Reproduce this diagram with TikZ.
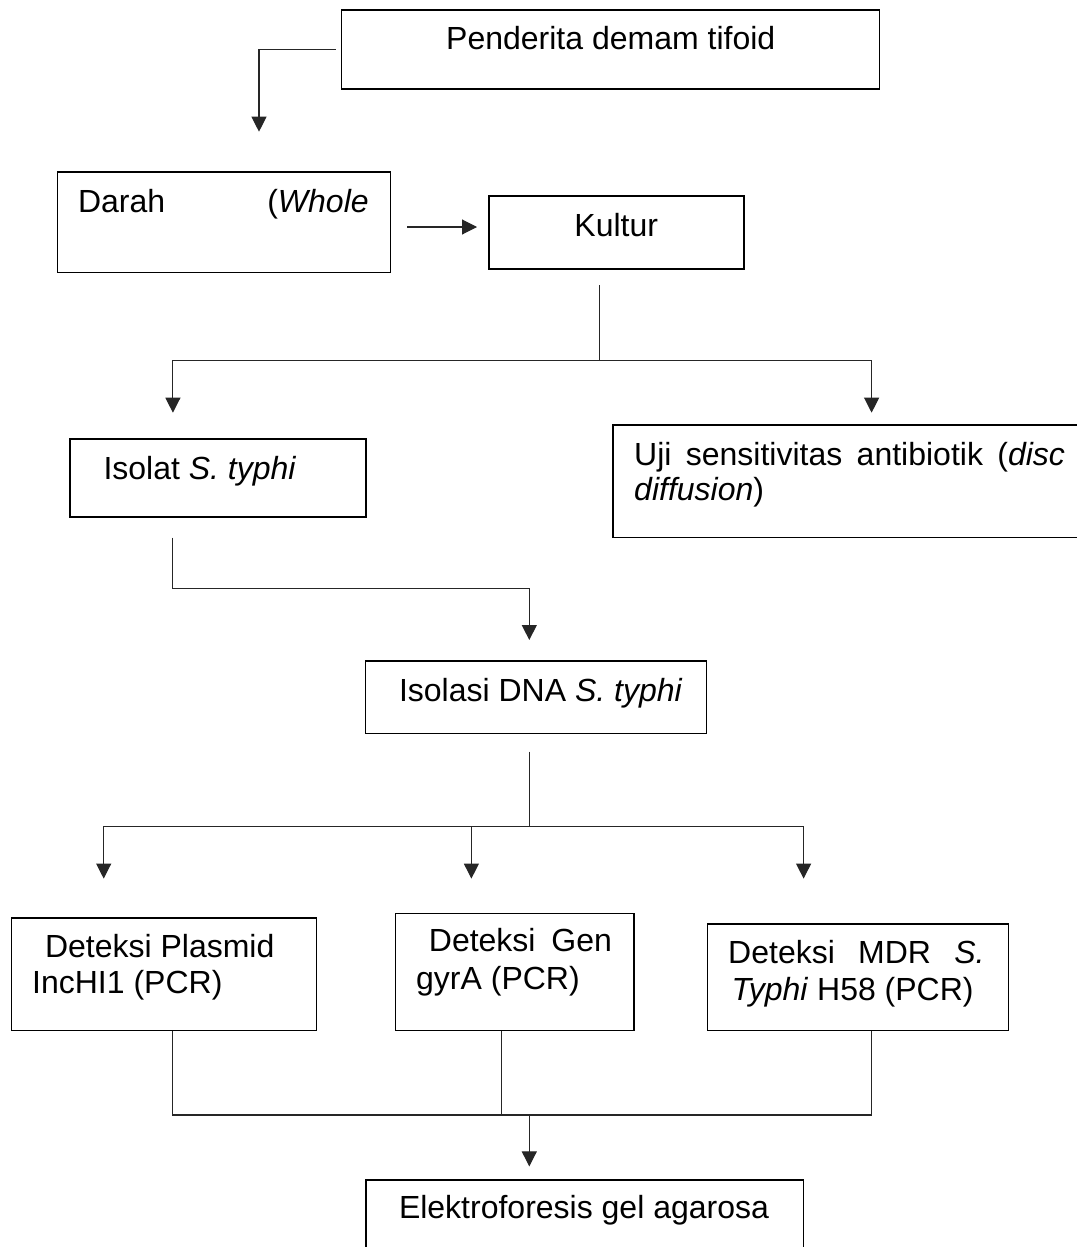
\documentclass[tikz,border=0pt]{standalone}
\usepackage{fontspec}
\setmainfont{Liberation Sans}
\usetikzlibrary{arrows.meta}
\begin{document}
\begin{tikzpicture}[x=1pt,y=-1pt,
  box/.style={draw, line width=1.6pt, inner sep=0pt, anchor=north west},
  txt/.style={anchor=base west, inner sep=0pt, font=\fontsize{32pt}{36pt}\selectfont},
  conn/.style={line width=1.1pt, draw=black!85},
  arr/.style={conn, -{Triangle[width=15pt,length=15pt]}}]
\useasboundingbox (0,0) rectangle (1076,1247);
% boxes
\node[box, minimum width=538pt, minimum height=79.3pt] (pend) at (340.6,9) {};
\node[box, minimum width=332.7pt, minimum height=100.7pt] (darah) at (56.8,171) {};
\node[box, minimum width=255pt, minimum height=73.3pt] (kultur) at (488.3,195) {};
\node[box, minimum width=296.5pt, minimum height=77.7pt] (isolat) at (68.9,438.3) {};
\node[box, minimum width=500pt, minimum height=112.7pt] (uji) at (612.1,424) {};
\node[box, minimum width=341pt, minimum height=72.8pt] (dna) at (364.7,660) {};
\node[box, minimum width=305pt, minimum height=112.8pt] (plasmid) at (10.7,916.9) {};
\node[box, minimum width=238.7pt, minimum height=117.2pt] (gen) at (394.6,912.5) {};
\node[box, minimum width=301pt, minimum height=106.3pt] (mdr) at (706.8,923.4) {};
\node[box, minimum width=437.6pt, minimum height=100pt] (elektro) at (365,1179) {};
% texts
\node[txt] (tpend) at (446,49) {Penderita demam tifoid};
\node[txt] (tdarah) at (77.8,212.3) {\makebox[290.7pt][s]{Darah (\textit{Whole}}};
\node[txt] (tkultur) at (574.2,236.7) {Kultur};
\node[txt] (tisolat) at (103.3,479.3) {Isolat \textit{S. typhi}};
\node[txt] (tuji1) at (634,465) {\makebox[430.8pt][s]{Uji sensitivitas antibiotik (\textit{disc}}};
\node[txt] (tuji2) at (634,500) {\textit{diffusion})};
\node[txt] (tdna) at (398.8,701.7) {Isolasi DNA \textit{S. typhi}};
\node[txt] (tpl1) at (44.8,957.4) {Deteksi Plasmid};
\node[txt] (tpl2) at (32,993.6) {IncHI1 (PCR)};
\node[txt] (tgen1) at (428.7,951.2) {\makebox[183.1pt][s]{Deteksi Gen}};
\node[txt] (tgen2) at (416,989.2) {gyrA (PCR)};
\node[txt] (tmdr1) at (728,963.2) {\makebox[256.4pt][s]{Deteksi MDR \textit{S.}}};
\node[txt] (tmdr2) at (731.5,1000) {\textit{Typhi} H58 (PCR)};
\node[txt] (tel) at (398.8,1218.9) {Elektroforesis gel agarosa};
% coordinates
\coordinate (c1) at (259,131.7);
\coordinate (d1) at (407.4,227);
\coordinate (d2) at (477,227);
\coordinate (k1) at (599.5,285);
\coordinate (k2) at (599.5,360.3);
\coordinate (isoin) at (172.9,412.7);
\coordinate (ujiin) at (871.6,412.7);
\coordinate (i1) at (172.9,537.7);
\coordinate (i2) at (172.9,588.3);
\coordinate (dnain) at (529.3,640);
\coordinate (n1) at (529.3,751.6);
\coordinate (n2) at (529.3,826.8);
\coordinate (plin) at (103.7,878.6);
\coordinate (genin) at (471.4,878.6);
\coordinate (mdrin) at (803.6,878.6);
\coordinate (b1) at (172.9,1115);
\coordinate (b2) at (501.4,1115);
\coordinate (b3) at (871.6,1115);
\coordinate (bm) at (529.3,1115);
\coordinate (elin) at (529.3,1166.4);
% connectors
\draw[arr] ([xshift=-5pt]pend.west) -| (c1);
\draw[arr] (d1) -- (d2);
\draw[conn] (k1) -- (k2);
\draw[arr] (k2) -| (isoin);
\draw[arr] (k2) -| (ujiin);
\draw[arr] (i1) -- (i2) -| (dnain);
\draw[conn] (n1) -- (n2);
\draw[arr] (n2) -| (plin);
\draw[arr] (n2) -| (genin);
\draw[arr] (n2) -| (mdrin);
\draw[conn] (plasmid.south -| b1) -- (b1) -- (b3) -- (mdr.south -| b3);
\draw[conn] (gen.south -| b2) -- (b2);
\draw[arr] (bm) -- (elin);
\end{tikzpicture}
\end{document}
